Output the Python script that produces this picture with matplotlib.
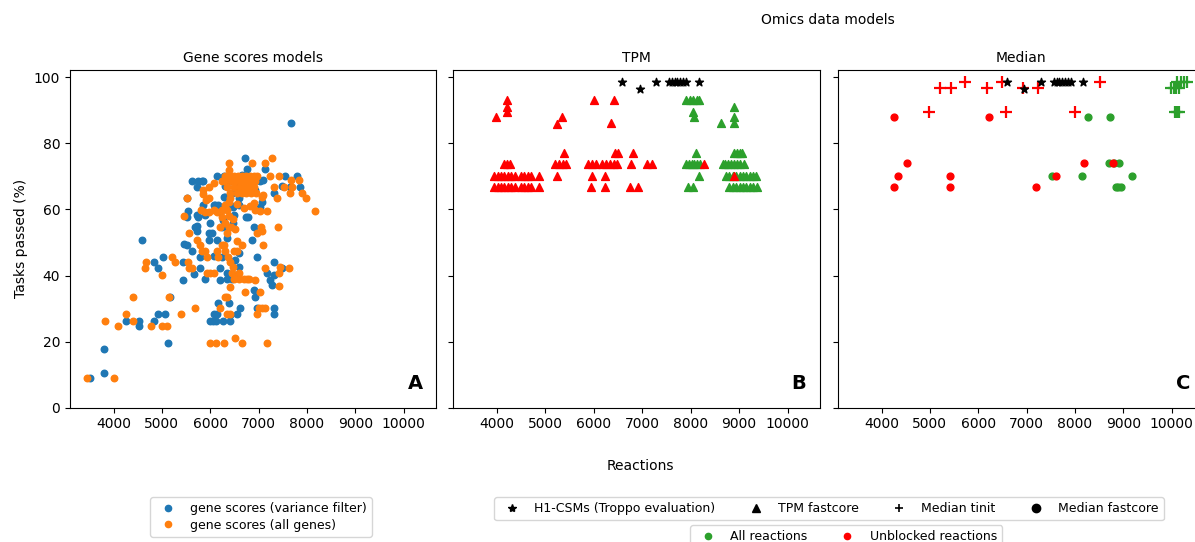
import numpy as np
import matplotlib
matplotlib.use("Agg")
import matplotlib.pyplot as plt
from matplotlib.lines import Line2D

# ---- panel A: gene scores models (reactions, tasks passed %)
varfilt_pts = np.array([
    (3520, 8.9), (3810, 10.4), (3810, 17.7), (4260, 26.3), (4520, 26.3), (4520, 24.8),
    (4590, 50.8), (4830, 44.0), (4830, 26.3), (4930, 42.2), (4930, 28.3), (5030, 45.5),
    (5060, 28.3), (5120, 19.5), (5170, 33.4), (5430, 38.6), (5430, 44.0), (5450, 49.4),
    (5510, 57.8), (5550, 59.6), (5520, 63.4), (5520, 49.3), (5620, 68.6), (5620, 47.4),
    (5660, 40.4), (5720, 66.9), (5750, 68.6), (5840, 68.6), (5860, 68.7), (5720, 55.1),
    (5720, 53.5), (5690, 54.8), (5750, 57.8), (5730, 58.3), (5900, 58.3), (5790, 42.2),
    (5790, 45.7), (5860, 61.4), (5900, 38.8), (5970, 50.8), (5970, 52.8), (6040, 52.8),
    (6000, 55.8), (5990, 26.3), (6060, 26.3), (6120, 26.3), (6070, 28.5), (6070, 61.4),
    (6070, 46.0), (6140, 70.2), (6280, 70.2), (6100, 61.4), (6170, 61.4), (6140, 50.8),
    (6170, 31.6), (6210, 38.6), (6240, 54.8), (6270, 56.8), (6280, 63.9), (6310, 67.1),
    (6310, 63.9), (6340, 38.8), (6350, 54.8), (6350, 51.3), (6380, 31.6), (6410, 26.3),
    (6410, 28.0), (6480, 55.8), (6480, 60.8), (6520, 44.7), (6550, 28.3), (6590, 46.7),
    (6590, 42.7), (6620, 30.1), (6650, 70.4), (6720, 75.5), (6760, 72.1), (6740, 57.8),
    (6790, 57.8), (6860, 50.8), (6900, 54.8), (6900, 35.6), (6930, 33.6), (6930, 65.9),
    (6970, 45.7), (6970, 30.1), (7000, 59.8), (7030, 60.8), (7040, 68.7), (7070, 62.4),
    (7100, 68.9), (7140, 72.1), (7170, 40.7), (7240, 38.6), (7280, 37.1), (7310, 44.0),
    (7310, 40.2), (7310, 30.1), (7310, 28.3), (7310, 65.1), (7480, 67.1), (7480, 42.2),
    (7550, 70.2), (7660, 66.9), (7670, 86.1), (7790, 70.2), (7850, 66.7),
    (6400, 68.6), (6450, 65.1), (6550, 66.9), (6600, 63.4), (6500, 58.3), (6200, 59.3),
    (6400, 61.4), (6600, 61.4), (6250, 45.7), (6350, 40.7), (6450, 38.8), (6200, 42.2),
    (6540, 40.2), (6150, 28.3), (6260, 26.3),
])

allgenes_pts = np.array([
    (3450, 8.9), (4010, 8.9), (3830, 26.3), (4100, 24.8), (4260, 28.3), (4400, 33.4),
    (4400, 26.3), (4650, 42.2), (4670, 44.0), (4780, 24.8), (5010, 40.2), (5010, 24.8),
    (5100, 24.8), (5140, 33.4), (5210, 45.7), (5280, 44.0), (5400, 28.3), (5450, 58.1),
    (5540, 44.0), (5570, 42.2), (5620, 42.2), (5520, 63.4), (5570, 52.8), (5690, 30.1),
    (5720, 50.8), (5790, 49.2), (5830, 47.4), (5900, 47.4), (5860, 64.8), (5920, 62.9),
    (5930, 45.7), (5970, 66.9), (5860, 65.8), (6070, 68.0), (5970, 63.4), (5930, 40.7),
    (6000, 40.7), (6070, 40.7), (5800, 59.7), (5900, 59.3), (5970, 59.3), (6070, 59.7),
    (6140, 59.3), (6240, 59.7), (6350, 59.7), (6000, 19.5), (6120, 19.5), (6170, 45.7),
    (6140, 47.4), (6210, 30.1), (6240, 49.2), (6280, 49.2), (6280, 19.5), (6310, 33.6),
    (6350, 33.6), (6350, 28.3), (6410, 28.3), (6380, 74.0), (6380, 72.0), (6240, 68.7),
    (6380, 54.8), (6420, 54.6), (6520, 54.0), (6410, 36.6), (6480, 42.7), (6520, 21.0),
    (6520, 39.2), (6590, 40.7), (6660, 19.5), (6660, 49.2), (6560, 50.5), (6720, 35.1),
    (6760, 38.8), (6860, 74.0), (6900, 61.9), (6930, 59.8), (6970, 52.8), (6970, 28.3),
    (6930, 38.6), (7000, 30.1), (7070, 30.1), (7140, 30.1), (7030, 35.1), (7050, 54.8),
    (7070, 53.6), (7070, 63.9), (7040, 59.5), (7100, 49.2), (7140, 74.0), (7170, 19.5),
    (7170, 59.5), (7140, 42.2), (7240, 70.2), (7280, 75.5), (7310, 66.7), (7380, 63.4),
    (7410, 54.8), (7430, 40.7), (7430, 36.8), (7450, 42.7), (7430, 70.2), (7520, 66.7),
    (7620, 42.2), (7670, 68.9), (7690, 66.7), (7660, 65.1), (7830, 68.9), (7900, 65.1),
    (7990, 63.4), (8170, 59.6), (7100, 64.5), (6555, 61.7), (6380, 62.4), (6700, 60.5),
    (6830, 61.0), (6480, 57.0), (6380, 58.0),
    (6300, 70.2), (6400, 70.2), (6500, 70.2), (6580, 70.2), (6660, 70.2), (6740, 70.2),
    (6820, 70.2), (6900, 70.2), (6960, 70.2), (6300, 68.6), (6420, 68.6), (6520, 68.6),
    (6620, 68.6), (6720, 68.6), (6820, 68.6), (6920, 68.6), (6350, 66.9), (6500, 66.9),
    (6600, 66.9), (6700, 66.9), (6800, 66.9), (6900, 66.9), (6400, 65.1), (6550, 65.1),
    (6650, 65.1), (6750, 65.1), (6850, 65.1), (6950, 65.1), (6400, 63.4), (6300, 61.4),
    (6250, 57.8), (6300, 55.8), (6200, 54.8), (6350, 52.8), (6300, 47.4), (6360, 45.7),
    (6400, 44.0), (6500, 47.4), (6550, 47.4), (6450, 40.7), (6500, 38.8), (6600, 38.8),
    (6700, 38.8), (6800, 38.8),
])

# ---- H1-CSMs (Troppo evaluation), shown in B and C
h1_x = [6590, 6950, 7290, 7560, 7620, 7680, 7730, 7790, 7850, 7910, 8165]
h1_y = [98.5, 96.5, 98.5, 98.5, 98.5, 98.5, 98.5, 98.5, 98.5, 98.5, 98.5]

# ---- panel B: TPM fastcore
tpm_all_x = [7900, 7980, 8060, 8140, 8180, 8050, 8070, 8630, 8890, 8900, 8900,
             8110, 7900, 7960, 8020, 8080, 8140, 8200, 8180, 7950, 8050,
             8890, 8950, 9010, 9070, 8660, 8720, 8780, 8840, 8900, 8960, 9020, 9100,
             8730, 8800, 8870, 8940, 9010, 9080, 9150, 9220, 9290, 9350,
             8800, 8870, 8940, 9010, 9080, 9150, 9220, 9290, 9380]
tpm_all_y = [93.1, 93.1, 93.1, 93.1, 93.1, 89.4, 87.9, 86.1, 91.1, 87.9, 86.1,
             77.2, 73.8, 73.8, 73.8, 73.8, 73.8, 73.8, 70.1, 66.7, 66.7,
             77.2, 77.2, 77.2, 77.2, 73.8, 73.8, 73.8, 73.8, 73.8, 73.8, 73.8, 73.8,
             70.1, 70.1, 70.1, 70.1, 70.1, 70.1, 70.1, 70.1, 70.1, 70.1,
             66.7, 66.7, 66.7, 66.7, 66.7, 66.7, 66.7, 66.7, 66.7]

tpm_unb_x = [3990, 4210, 4210, 4210, 4150, 4210, 4270,
             3950, 4020, 4090, 4160, 4230, 4300, 4380, 4500, 4570, 4640, 4710, 4870,
             3950, 4020, 4090, 4160, 4230, 4300, 4380, 4500, 4570, 4640, 4710, 4870,
             5240, 5340, 5390, 5200, 5280, 5360, 5440, 5240,
             6000, 6420, 6350, 6450, 6500, 5890, 5960, 6040, 6180, 6260, 6340, 6420, 6490,
             5960, 6230, 5955, 6230, 6820, 6780, 7110, 7210, 6750, 6920, 8270, 8900]
tpm_unb_y = [87.9, 93.1, 91.1, 89.4, 73.8, 73.8, 73.8,
             70.1, 70.1, 70.1, 70.1, 70.1, 70.1, 70.1, 70.1, 70.1, 70.1, 70.1, 70.1,
             66.7, 66.7, 66.7, 66.7, 66.7, 66.7, 66.7, 66.7, 66.7, 66.7, 66.7, 66.7,
             85.9, 87.9, 77.2, 73.8, 73.8, 73.8, 73.8, 70.1,
             93.1, 93.1, 86.1, 77.2, 77.2, 73.8, 73.8, 73.8, 73.8, 73.8, 73.8, 73.8, 73.8,
             70.1, 70.1, 66.7, 66.7, 77.2, 73.8, 73.8, 73.8, 66.7, 66.7, 73.8, 70.1]

# ---- panel C: Median tinit (+) and Median fastcore (o)
tinit_all_x = [9980, 10040, 10100, 10150, 10120, 10200, 10260, 10320, 10080, 10120, 10150]
tinit_all_y = [96.7, 96.7, 96.7, 96.7, 98.5, 98.5, 98.5, 98.5, 89.6, 89.6, 89.6]
tinit_unb_x = [4990, 5220, 5440, 5720, 6190, 6500, 6570, 6930, 7230, 8010, 8510]
tinit_unb_y = [89.6, 96.7, 96.7, 98.5, 96.7, 98.5, 89.6, 96.7, 96.7, 89.6, 98.5]

fc_all_x = [8280, 8720, 7530, 8140, 8700, 8800, 8910, 8840, 8900, 8960, 9190]
fc_all_y = [87.9, 87.9, 70.1, 70.1, 74.0, 74.0, 74.0, 66.7, 66.7, 66.7, 70.1]
fc_unb_x = [4250, 6220, 4520, 4340, 4250, 5410, 5410, 7190, 7610, 8190, 8790]
fc_unb_y = [87.9, 87.9, 74.0, 70.1, 66.7, 70.1, 66.7, 66.7, 70.1, 74.0, 74.0]

BLUE, ORANGE = '#1f77b4', '#ff7f0e'
GREEN, RED = '#2ca02c', '#ff0000'

fig = plt.figure(figsize=(11.95, 5.42), dpi=100)
W, H = 1195, 542
def box(l, t, r, b):
    return [l / W, 1 - b / H, (r - l) / W, (b - t) / H]

axA = fig.add_axes(box(70, 70, 436, 407.7))
axB = fig.add_axes(box(453, 70, 820, 407.7), sharex=axA, sharey=axA)
axC = fig.add_axes(box(838, 70, 1204, 407.7), sharex=axA, sharey=axA)

axA.scatter(varfilt_pts[:, 0], varfilt_pts[:, 1], s=22, color=BLUE, zorder=2)
axA.scatter(allgenes_pts[:, 0], allgenes_pts[:, 1], s=22, color=ORANGE, zorder=3)

axB.scatter(tpm_all_x, tpm_all_y, marker='^', s=32, color=GREEN, zorder=2)
axB.scatter(tpm_unb_x, tpm_unb_y, marker='^', s=32, color=RED, zorder=3)
axB.scatter(h1_x, h1_y, marker='*', s=36, color='black', zorder=4)

axC.scatter(tinit_all_x, tinit_all_y, marker='+', s=70, linewidths=1.6, color=GREEN, zorder=2)
axC.scatter(fc_all_x, fc_all_y, marker='o', s=24, color=GREEN, zorder=2)
axC.scatter(tinit_unb_x, tinit_unb_y, marker='+', s=70, linewidths=1.6, color=RED, zorder=3)
axC.scatter(fc_unb_x, fc_unb_y, marker='o', s=24, color=RED, zorder=3)
axC.scatter(h1_x, h1_y, marker='*', s=36, color='black', zorder=4)

axA.set_xlim(3100, 10670)
axA.set_ylim(0, 102.2)
axA.set_xticks(range(4000, 10001, 1000))
axA.set_yticks(range(0, 101, 20))
for ax in (axB, axC):
    ax.tick_params(labelleft=False)

for ax, t, letter in ((axA, 'Gene scores models', 'A'), (axB, 'TPM', 'B'), (axC, 'Median', 'C')):
    ax.set_title(t, fontsize=10)
    ax.tick_params(labelsize=10)
    ax.text(0.943, 0.073, letter, transform=ax.transAxes, fontsize=14,
            fontweight='bold', ha='center', va='center')

axA.set_ylabel('Tasks passed (%)', fontsize=10)
fig.text(640 / W, 1 - 466 / H, 'Reactions', ha='center', va='center', fontsize=10)
fig.text(828 / W, 1 - 20 / H, 'Omics data models', ha='center', va='center', fontsize=10)

# legends
h_gene = [Line2D([], [], ls='', marker='o', ms=4.5, color=c) for c in (BLUE, ORANGE)]
fig.legend(h_gene, ['gene scores (variance filter)', 'gene scores (all genes)'],
           loc='upper center', bbox_to_anchor=(261 / W, 1 - 497 / H),
           fontsize=9, labelspacing=0.3, borderaxespad=0, handletextpad=0.8)

h_mod = [Line2D([], [], ls='', marker=m, ms=ms, color='black', markeredgewidth=mew)
         for m, ms, mew in (('*', 6, 1), ('^', 6, 1), ('+', 6, 1.2), ('o', 6, 1))]
fig.legend(h_mod, ['H1-CSMs (Troppo evaluation)', 'TPM fastcore', 'Median tinit', 'Median fastcore'],
           loc='upper center', bbox_to_anchor=(829 / W, 1 - 497 / H), ncol=4,
           fontsize=9, borderaxespad=0, columnspacing=2.2, handletextpad=0.8)

h_col = [Line2D([], [], ls='', marker='o', ms=4.5, color=c) for c in (GREEN, RED)]
fig.legend(h_col, ['All reactions', 'Unblocked reactions'],
           loc='upper center', bbox_to_anchor=(846 / W, 1 - 525 / H), ncol=2,
           fontsize=9, borderaxespad=0, columnspacing=2.2, handletextpad=0.8)

fig.savefig('out.png', dpi=100)
